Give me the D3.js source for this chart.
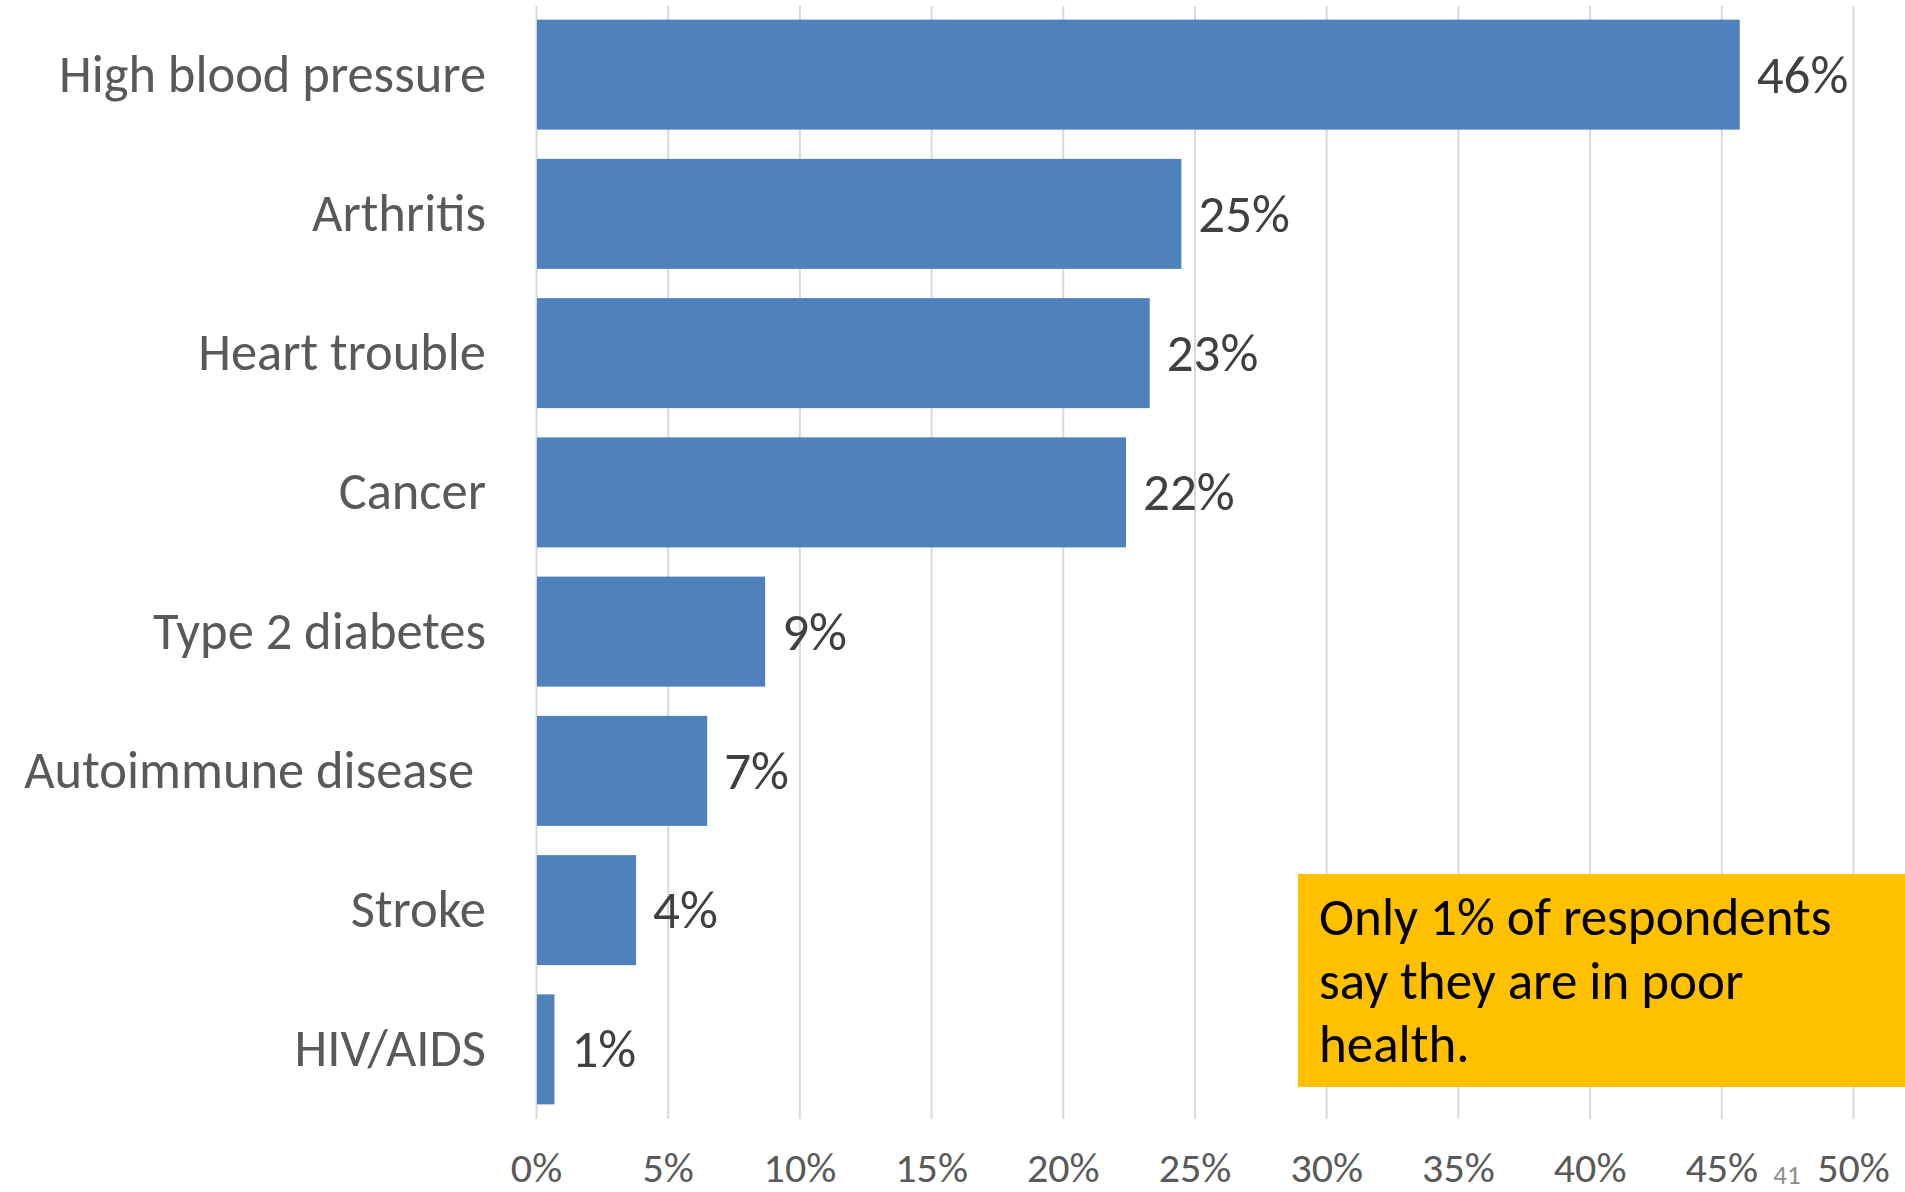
<!DOCTYPE html>
<html>
<head>
<meta charset="utf-8">
<script src="https://cdn.jsdelivr.net/npm/d3@7"></script>
<style>
  html, body { margin: 0; padding: 0; background: #fff; }
  svg text { font-family: Carlito, Calibri, Lato, sans-serif; white-space: pre; }
</style>
</head>
<body>
<svg id="chart" width="1905" height="1192"></svg>
<script>
const categories = ["High blood pressure", "Arthritis", "Heart trouble", "Cancer", "Type 2 diabetes", "Autoimmune disease ", "Stroke", "HIV/AIDS"];
const values = [0.457, 0.245, 0.233, 0.224, 0.087, 0.065, 0.038, 0.007];
const valueLabels = ["46%", "25%", "23%", "22%", "9%", "7%", "4%", "1%"];
const tickValues = [0, 0.05, 0.10, 0.15, 0.20, 0.25, 0.30, 0.35, 0.40, 0.45, 0.50];
const tickLabels = ["0%", "5%", "10%", "15%", "20%", "25%", "30%", "35%", "40%", "45%", "50%"];
const calloutLines = ["Only 1% of respondents", "say they are in poor", "health."];
const pageNumber = "41";

const svg = d3.select("#chart");
svg.append("rect").attr("width", 1905).attr("height", 1192).attr("fill", "#fff");

const x = d3.scaleLinear().domain([0, 0.5]).range([536, 1853]);
const y = d3.scaleBand().domain(categories).range([5, 1119]).paddingInner(0.21).paddingOuter(0.105);

// gridlines
const grid = d3.axisBottom(x).tickValues(tickValues).tickSize(-(1119 - 6)).tickFormat("");
svg.append("g").attr("transform", "translate(0,1119)").call(grid)
  .call(g => g.select(".domain").remove())
  .call(g => g.selectAll("line").attr("stroke", "#D9D9D9").attr("stroke-width", 2));

// tick labels
const axis = d3.axisBottom(x).tickValues(tickValues).tickSize(0).tickPadding(0)
  .tickFormat((d, i) => tickLabels[i]);
svg.append("g").attr("transform", "translate(0,1182)").call(axis)
  .call(g => g.select(".domain").remove())
  .call(g => g.selectAll("text").attr("dy", null).attr("y", 0)
    .attr("font-size", 42).attr("fill", "#595959")
    .style("font-family", "Carlito, Calibri, Lato, sans-serif"));

// bars
svg.append("g").selectAll("rect").data(categories).join("rect")
  .attr("x", x(0) + 1)
  .attr("y", d => y(d))
  .attr("width", (d, i) => x(values[i]) - x(0) - 1)
  .attr("height", y.bandwidth())
  .attr("fill", "#4F81BD");

// category labels
svg.append("g").selectAll("text").data(categories).join("text")
  .attr("x", 486)
  .attr("y", d => y(d) + y.bandwidth() / 2 + 17)
  .attr("text-anchor", "end")
  .attr("font-size", 52.5)
  .attr("fill", "#595959")
  .text(d => d);

// value labels
svg.append("g").selectAll("text").data(categories).join("text")
  .attr("x", (d, i) => x(values[i]) + 17)
  .attr("y", d => y(d) + y.bandwidth() / 2 + 18)
  .attr("font-size", 53)
  .attr("fill", "#404040")
  .text((d, i) => valueLabels[i]);

// page number
svg.append("text").attr("x", 1787).attr("y", 1184).attr("text-anchor", "middle")
  .attr("font-size", 27).attr("fill", "#8C8C8C").text(pageNumber);

// callout
svg.append("rect").attr("x", 1298).attr("y", 874).attr("width", 607).attr("height", 213).attr("fill", "#FFC000");
svg.append("g").selectAll("text").data(calloutLines).join("text")
  .attr("x", 1319)
  .attr("y", (d, i) => 935 + i * 63.5)
  .attr("font-size", 53)
  .attr("fill", "#000")
  .text(d => d);
</script>
</body>
</html>
